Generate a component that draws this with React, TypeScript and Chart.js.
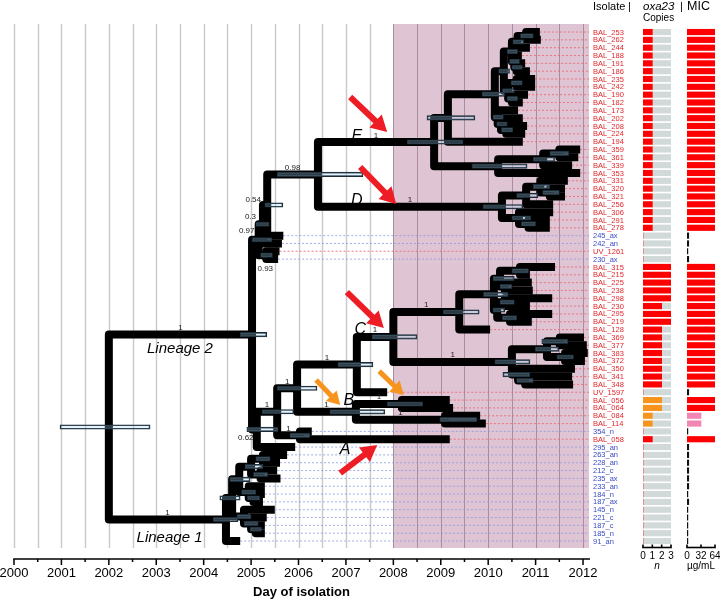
import React, { useEffect, useRef } from 'react';
import { Chart, registerables } from 'chart.js';

Chart.register(...registerables);

// ---------------- data ----------------
const isolates = [
  'BAL_253', 'BAL_262', 'BAL_244', 'BAL_188', 'BAL_191', 'BAL_186', 'BAL_235', 'BAL_242', 'BAL_190', 'BAL_182',
  'BAL_173', 'BAL_202', 'BAL_208', 'BAL_224', 'BAL_194', 'BAL_359', 'BAL_361', 'BAL_339', 'BAL_353', 'BAL_331',
  'BAL_320', 'BAL_321', 'BAL_256', 'BAL_306', 'BAL_291', 'BAL_278', '245_ax', '242_an', 'UV_1261', '230_ax',
  'BAL_315', 'BAL_215', 'BAL_225', 'BAL_238', 'BAL_298', 'BAL_230', 'BAL_295', 'BAL_219', 'BAL_128', 'BAL_369',
  'BAL_377', 'BAL_383', 'BAL_372', 'BAL_350', 'BAL_341', 'BAL_348', 'UV_1597', 'BAL_056', 'BAL_064', 'BAL_084',
  'BAL_114', '354_n', 'BAL_058', '295_an', '263_an', '228_an', '212_c', '235_ax', '233_an', '184_n',
  '187_ax', '145_n', '221_c', '187_c', '185_n', '91_an',
];

const tipYears = [
  2011.09, 2011.11, 2010.88, 2010.71, 2010.78, 2010.88, 2010.99, 2010.99, 2010.84, 2010.73,
  2010.63, 2010.73, 2010.82, 2010.78, 2010.73, 2011.94, 2011.90, 2011.77, 2011.94, 2011.68,
  2011.62, 2011.62, 2011.37, 2011.37, 2011.30, 2011.30, 2005.68, 2005.65, 2005.60, 2005.57,
  2011.41, 2010.88, 2010.92, 2010.94, 2011.35, 2010.88, 2011.35, 2010.92, 2010.04, 2012.02,
  2012.08, 2012.10, 2012.04, 2011.83, 2011.77, 2011.79, 2007.87, 2009.19, 2009.26, 2009.83,
  2009.95, 2006.28, 2009.19, 2005.93, 2005.76, 2005.61, 2005.55, 2005.62, 2005.29, 2005.29,
  2005.25, 2005.50, 2005.33, 2005.29, 2005.29, 2004.77,
];

const tipParents = [
  'nU9', 'nU9', 'nU7', 'nU8', 'nU10', 'nU10', 'nU11', 'nU11', 'nU12', 'nU12',
  'nU2', 'nU3', 'nU4', 'nU4', 'nE1', 'nE2a1', 'nE2a1', 'nE2a', 'nE2', 'nD1a',
  'nD1b', 'nD1b', 'nD1', 'nD2', 'nD2a', 'nD2a', 'n054', 'n03', 'n093', 'n093',
  'nC3a', 'nC3a', 'nC3b', 'nC3b', 'nC4a', 'nC4a', 'nC4b', 'nC4b', 'nC1', 'nC5a',
  'nC5a', 'nC5b', 'nC5b', 'nC6', 'nC6a', 'nC6a', 'nC0', 'nB1', 'nB1', 'nB2',
  'nB2', 'nA', 'nA', 'n062', 'nL1i', 'nL1i', 'nL1j', 'nL1j', 'nL1g', 'nL1h',
  'nL1h', 'nL1c', 'nL1d', 'nL1e', 'nL1e', 'L1',
];

const oxa23Copies = [
  1, 1, 1, 1, 1, 1, 1, 1, 1, 1,
  1, 1, 1, 1, 1, 1, 1, 1, 1, 1,
  1, 1, 1, 1, 1, 1, 0, 0, 0, 0,
  3, 3, 3, 3, 3, 2, 3, 3, 2, 2,
  2, 2, 2, 2, 2, 2, 0, 2, 2, 1,
  1, 0, 1, 0, 0, 0, 0, 0, 0, 0,
  0, 0, 0, 0, 0, 0,
];

// 'r' = red oxa23 context, 'o' = orange oxa23 context, '' = none
const oxa23Type = [
  'r', 'r', 'r', 'r', 'r', 'r', 'r', 'r', 'r', 'r',
  'r', 'r', 'r', 'r', 'r', 'r', 'r', 'r', 'r', 'r',
  'r', 'r', 'r', 'r', 'r', 'r', '', '', '', '',
  'r', 'r', 'r', 'r', 'r', 'r', 'r', 'r', 'r', 'r',
  'r', 'r', 'r', 'r', 'r', 'r', '', 'o', 'o', 'o',
  'o', '', 'r', '', '', '', '', '', '', '',
  '', '', '', '', '', '',
];

const micValues = [
  64, 64, 64, 64, 64, 64, 64, 64, 64, 64,
  64, 64, 64, 64, 64, 64, 64, 64, 64, 64,
  64, 64, 64, 64, 64, 64, 4, 4, 2, 4,
  64, 64, 64, 64, 64, 64, 64, 64, 64, 64,
  64, 64, 64, 64, 64, 64, 4, 64, 64, 32,
  32, 2, 64, 4, 4, 4, 4, 4, 4, 2,
  4, 2, 2, 2, 2, 2,
];

const nodeIds = [
  'root', 'L2', 'L1', 'n097', 'n03', 'n054', 'nDE', 'n093', 'nE', 'nE1',
  'nU', 'nU1', 'nU2', 'nU3', 'nU4', 'nU5', 'nU6', 'nU7', 'nU8', 'nU9',
  'nU10', 'nU11', 'nU12', 'nE2', 'nE2a', 'nE2a1', 'nD', 'nD1', 'nD1a', 'nD1b',
  'nD2', 'nD2a', 'n062', 'nX', 'nY', 'nA', 'nC0', 'nB', 'nC', 'nC1',
  'nC1a', 'nC3', 'nC3a', 'nC3b', 'nC4', 'nC4a', 'nC4b', 'nC2', 'nC5', 'nC5a',
  'nC5b', 'nC6', 'nC6a', 'nB1', 'nB2', 'nL1a', 'nL1b', 'nL1c', 'nL1d', 'nL1e',
  'nL1f', 'nL1g', 'nL1h', 'nL1i', 'nL1j',
];

const nodeParents = [
  '', 'root', 'root', 'L2', 'n097', 'n03', 'n054', 'n097', 'nDE', 'nE',
  'nE1', 'nU', 'nU', 'nU2', 'nU3', 'nU1', 'nU1', 'nU5', 'nU5', 'nU7',
  'nU8', 'nU6', 'nU6', 'nE', 'nE2', 'nE2a', 'nDE', 'nD', 'nD1', 'nD1a',
  'nD', 'nD2', 'L2', 'n062', 'nX', 'nX', 'nY', 'nY', 'nC0', 'nC',
  'nC1', 'nC1a', 'nC3', 'nC3', 'nC1a', 'nC4', 'nC4', 'nC', 'nC2', 'nC5',
  'nC5', 'nC2', 'nC6', 'nB', 'nB', 'L1', 'nL1a', 'nL1a', 'nL1c', 'nL1d',
  'nL1b', 'nL1b', 'nL1g', 'nL1f', 'nL1f',
];

const nodeYears = [
  2002.00, 2005.02, 2004.47, 2005.16, 2005.25, 2005.34, 2006.41, 2005.32, 2008.86, 2009.15,
  2010.14, 2010.33, 2010.20, 2010.27, 2010.38, 2010.50, 2010.42, 2010.62, 2010.55, 2010.80,
  2010.60, 2010.60, 2010.50, 2010.21, 2011.16, 2011.50, 2010.29, 2010.80, 2011.10, 2011.30,
  2010.65, 2010.85, 2005.12, 2005.55, 2005.97, 2006.03, 2007.23, 2007.21, 2008.00, 2009.39,
  2010.12, 2010.25, 2010.67, 2010.35, 2010.19, 2010.35, 2010.46, 2010.50, 2011.24, 2011.51,
  2011.62, 2010.63, 2010.78, 2008.18, 2009.09, 2004.60, 2004.75, 2004.85, 2005.00, 2005.10,
  2005.00, 2004.95, 2005.05, 2005.25, 2005.20,
];

const nodeSupport = [
  null, 1, 1, 0.97, 0.3, 0.54, 0.98, 0.93, 1, null,
  null, null, null, null, null, null, null, null, null, null,
  null, null, null, null, null, null, 1, null, null, null,
  null, null, 0.62, 1, 1, 1, 1, 1, 1, 1,
  null, null, null, null, null, null, null, 1, null, null,
  null, null, null, 1, 1, null, null, null, null, null,
  null, null, null, null, null,
];

const hpdLow = [
  2000.97, 2004.77, 2004.20, 2005.02, 2005.10, 2005.29, 2005.55, 2005.20, 2008.29, 2008.71,
  2009.87, 2010.22, 2010.10, 2010.18, 2010.28, 2010.40, 2010.30, 2010.52, 2010.45, 2010.68,
  2010.50, 2010.48, 2010.40, 2009.66, 2010.95, 2011.30, 2009.89, 2010.60, 2010.95, 2011.15,
  2010.50, 2010.70, 2004.91, 2005.23, 2005.55, 2005.82, 2006.83, 2006.66, 2007.55, 2009.05,
  2009.90, 2010.10, 2010.50, 2010.25, 2010.10, 2010.25, 2010.30, 2010.14, 2010.99, 2011.13,
  2011.45, 2010.31, 2010.60, 2007.87, 2008.98, 2004.34, 2004.55, 2004.70, 2004.85, 2004.98,
  2004.87, 2004.80, 2004.92, 2005.10, 2005.05,
];

const hpdHigh = [
  2002.87, 2005.33, 2004.72, 2005.44, 2005.38, 2005.67, 2007.36, 2005.45, 2009.47, 2009.72,
  2010.35, 2010.45, 2010.32, 2010.40, 2010.52, 2010.62, 2010.55, 2010.75, 2010.66, 2010.95,
  2010.72, 2010.72, 2010.62, 2010.82, 2011.40, 2011.70, 2010.73, 2011.05, 2011.30, 2011.50,
  2010.90, 2011.00, 2005.57, 2005.90, 2006.39, 2006.24, 2007.57, 2007.82, 2008.50, 2009.81,
  2010.42, 2010.55, 2010.85, 2010.50, 2010.35, 2010.55, 2010.60, 2010.88, 2011.49, 2011.68,
  2011.80, 2010.88, 2010.95, 2008.62, 2009.76, 2004.77, 2004.98, 2005.00, 2005.15, 2005.22,
  2005.25, 2005.10, 2005.18, 2005.40, 2005.35,
];

const yearTicks = [2000, 2001, 2002, 2003, 2004, 2005, 2006, 2007, 2008, 2009, 2010, 2011, 2012];
const copyTicks = [0, 1, 2, 3];
const micTicks = [0, 32, 64];
const shadedFrom = 2008;

const cladeNames = ['E', 'D', 'C', 'B', 'A'];
const cladeNameYear = [2007.23, 2007.23, 2007.30, 2007.06, 2006.98];
const cladeNameRow = [13.41, 21.58, 37.93, 47.0, 53.26];

const lineageNames = ['Lineage 2', 'Lineage 1'];
const lineageNameYear = [2003.50, 2003.28];
const lineageNameRow = [40.49, 64.62];

const arrowKind = ['red', 'red', 'red', 'red', 'orange', 'orange'];
const arrowFromYear = [2007.09, 2007.30, 2007.02, 2006.88, 2006.37, 2007.70];
const arrowFromRow = [8.30, 17.24, 33.21, 56.32, 44.44, 43.30];
const arrowToYear = [2007.87, 2008.06, 2007.80, 2007.66, 2006.88, 2008.22];
const arrowToRow = [12.77, 21.97, 37.80, 52.75, 47.64, 46.36];

// ---------------- layout / style constants ----------------
const FONT = '"Liberation Sans", Arial, Helvetica, sans-serif';
const X_MIN = 2000;
const X_MAX = 2012.126;
const ROW_MIN = -1.28;
const ROW_MAX = 65.89;
const RED_TXT = '#e3262b';
const BLUE_TXT = '#3a4cc4';
// pixel offsets (from the node) for support labels that sit beside the spine
const supportLabelOffsets: Record<string, [number, number]> = {
  n097: [-12, -8.5],
  n03: [-12.5, -7.5],
  n054: [-14, -5.5],
  n093: [-1, 14],
  n062: [-11, 8],
};

const isRedIsolate = (name: string) => /^(BAL|UV)/.test(name);

// ---------------- tree geometry ----------------
const childrenOf: Record<string, string[]> = {};
const posX: Record<string, number> = {};
const posRow: Record<string, number> = {};
const parentOf: Record<string, string> = {};
nodeIds.forEach((id, i) => {
  childrenOf[id] = [];
  posX[id] = nodeYears[i];
});
isolates.forEach((_, i) => {
  const k = 't' + i;
  posX[k] = tipYears[i];
  posRow[k] = i;
  childrenOf[tipParents[i]].push(k);
  parentOf[k] = tipParents[i];
});
nodeParents.forEach((p, i) => {
  if (p) {
    childrenOf[p].push(nodeIds[i]);
    parentOf[nodeIds[i]] = p;
  }
});
const rowOf = (id: string): number => {
  if (posRow[id] !== undefined) return posRow[id];
  const rs = childrenOf[id].map(rowOf);
  const r = (Math.min(...rs) + Math.max(...rs)) / 2;
  posRow[id] = r;
  return r;
};
nodeIds.forEach(rowOf);

function drawArrow(ctx: any, x1: number, y1: number, x2: number, y2: number, color: string, shaft: number, headLen: number, headHalf: number) {
  const ang = Math.atan2(y2 - y1, x2 - x1);
  const c = Math.cos(ang);
  const s = Math.sin(ang);
  const bx = x2 - headLen * c;
  const by = y2 - headLen * s;
  ctx.strokeStyle = color;
  ctx.lineWidth = shaft;
  ctx.lineCap = 'butt';
  ctx.beginPath();
  ctx.moveTo(x1, y1);
  ctx.lineTo(bx + c, by + s);
  ctx.stroke();
  ctx.fillStyle = color;
  ctx.beginPath();
  ctx.moveTo(x2, y2);
  ctx.lineTo(bx - headHalf * s, by + headHalf * c);
  ctx.lineTo(bx + headHalf * s, by - headHalf * c);
  ctx.closePath();
  ctx.fill();
}

const treeDecor = {
  id: 'treeDecor',
  beforeDatasetsDraw(chart: any) {
    const { ctx, chartArea: a, scales } = chart;
    const x = scales.x;
    ctx.save();
    const top = a.top + 2;
    const p08 = x.getPixelForValue(shadedFrom);
    ctx.fillStyle = '#dfc4d3';
    ctx.fillRect(p08, top, a.right - p08, a.bottom - top);
    for (let v = X_MIN; v <= 2012.001; v += 0.5) {
      const p = Math.round(x.getPixelForValue(v)) + 0.5;
      ctx.strokeStyle = v >= shadedFrom ? '#a98c9d' : '#c9c9c9';
      ctx.lineWidth = v >= shadedFrom ? 1 : 1.4;
      ctx.beginPath();
      ctx.moveTo(p, top);
      ctx.lineTo(p, a.bottom);
      ctx.stroke();
    }
    ctx.restore();
  },
  afterDatasetsDraw(chart: any) {
    const { ctx, chartArea: a, scales } = chart;
    const x = scales.x;
    const y = scales.y;
    const X = (v: number) => x.getPixelForValue(v);
    const Y = (v: number) => y.getPixelForValue(v);
    ctx.save();

    // posterior support labels
    ctx.fillStyle = '#222';
    ctx.font = `8px ${FONT}`;
    ctx.textAlign = 'center';
    nodeIds.forEach((id, i) => {
      const s = nodeSupport[i];
      const p = nodeParents[i];
      if (s === null || !p) return;
      const cx = X(posX[id]);
      const cy = Y(posRow[id]);
      const off = supportLabelOffsets[id];
      if (off) {
        ctx.textBaseline = 'middle';
        ctx.fillText(String(s), cx + off[0], cy + off[1]);
      } else {
        ctx.textBaseline = 'alphabetic';
        ctx.fillText(String(s), (X(posX[p]) + cx) / 2, cy - 4.5);
      }
    });

    // clade letters and lineage names
    ctx.fillStyle = '#000';
    ctx.textBaseline = 'middle';
    ctx.font = `italic 16px ${FONT}`;
    cladeNames.forEach((n, i) => ctx.fillText(n, X(cladeNameYear[i]), Y(cladeNameRow[i])));
    ctx.font = `italic 15px ${FONT}`;
    lineageNames.forEach((n, i) => ctx.fillText(n, X(lineageNameYear[i]), Y(lineageNameRow[i])));

    // arrows
    arrowKind.forEach((k, i) => {
      const red = k === 'red';
      drawArrow(ctx, X(arrowFromYear[i]), Y(arrowFromRow[i]), X(arrowToYear[i]), Y(arrowToRow[i]),
        red ? '#ee1c25' : '#f7941e', red ? 6 : 5, red ? 16 : 13, red ? 9 : 7.5);
    });

    // isolate labels
    ctx.textAlign = 'left';
    ctx.textBaseline = 'middle';
    ctx.font = `7.5px ${FONT}`;
    isolates.forEach((n, i) => {
      ctx.fillStyle = isRedIsolate(n) ? RED_TXT : BLUE_TXT;
      ctx.fillText(n, a.right + 4, Y(i) + 0.5);
    });

    // headers
    ctx.fillStyle = '#000';
    ctx.textBaseline = 'alphabetic';
    ctx.font = `11px ${FONT}`;
    ctx.fillText('Isolate', a.right + 4, 9.5);
    ctx.fillText('|', 628, 9.5);
    ctx.fillText('|', 680, 9.5);
    ctx.font = `italic 11.5px ${FONT}`;
    ctx.fillText('oxa23', 643, 9.5);
    ctx.font = `12.5px ${FONT}`;
    ctx.fillText('MIC', 687, 9.5);
    ctx.font = `10px ${FONT}`;
    ctx.fillText('Copies', 643, 20.5);

    // x axis
    const axY = a.bottom + 11;
    ctx.strokeStyle = '#000';
    ctx.lineWidth = 1.5;
    ctx.beginPath();
    ctx.moveTo(X(X_MIN) - 0.75, axY);
    ctx.lineTo(a.right + 1, axY);
    ctx.stroke();
    for (let v = X_MIN; v <= 2012.001; v += 0.5) {
      const p = X(v);
      const major = Math.abs(v - Math.round(v)) < 1e-6;
      ctx.beginPath();
      ctx.moveTo(p, axY);
      ctx.lineTo(p, axY + (major ? 6 : 3));
      ctx.stroke();
    }
    ctx.font = `13px ${FONT}`;
    ctx.textAlign = 'center';
    ctx.textBaseline = 'middle';
    yearTicks.forEach((t) => ctx.fillText(String(t), X(t), axY + 14.5));
    ctx.font = `bold 13px ${FONT}`;
    ctx.fillText('Day of isolation', (a.left + a.right) / 2, axY + 33);
    ctx.restore();
  },
};

function barAxis(ticks: number[], title: string, italic: boolean) {
  return {
    id: 'barAxis',
    afterDraw(chart: any) {
      const { ctx, chartArea: a, scales } = chart;
      const x = scales.x;
      const yl = a.bottom - 0.5;
      ctx.save();
      ctx.strokeStyle = '#000';
      ctx.lineWidth = 1.6;
      ctx.beginPath();
      ctx.moveTo(x.getPixelForValue(ticks[0]) - 0.8, yl);
      ctx.lineTo(x.getPixelForValue(ticks[ticks.length - 1]) + 0.8, yl);
      ctx.stroke();
      ticks.forEach((t) => {
        const p = x.getPixelForValue(t);
        ctx.beginPath();
        ctx.moveTo(p, yl);
        ctx.lineTo(p, yl - 3);
        ctx.stroke();
      });
      ctx.fillStyle = '#000';
      ctx.font = `10px ${FONT}`;
      ctx.textAlign = 'center';
      ctx.textBaseline = 'middle';
      ticks.forEach((t) => ctx.fillText(String(t), x.getPixelForValue(t), yl + 9));
      ctx.font = `${italic ? 'italic ' : ''}10px ${FONT}`;
      ctx.fillText(title, (a.left + a.right) / 2, yl + 19);
      ctx.restore();
    },
  };
}

function treeConfig(): any {
  const hpdDataset = {
    type: 'bar',
    indexAxis: 'y',
    data: nodeIds.map((id, i) => ({ x: [hpdLow[i], hpdHigh[i]], y: posRow[id] })),
    backgroundColor: 'rgba(165,212,236,0.28)',
    borderColor: '#1b2c38',
    borderWidth: 1,
    borderSkipped: false,
    barThickness: 4.5,
    order: 0,
  };
  const branchDatasets = Object.keys(parentOf).map((id) => {
    const p = parentOf[id];
    return {
      type: 'line',
      data: [
        { x: posX[p], y: posRow[p] },
        { x: posX[p], y: posRow[id] },
        { x: posX[id], y: posRow[id] },
      ],
      borderColor: '#000',
      borderWidth: 8,
      borderJoinStyle: 'round',
      borderCapStyle: 'butt',
      pointRadius: 0,
      fill: false,
      tension: 0,
      order: 1,
    };
  });
  const leaderDatasets = isolates.map((n, i) => ({
    type: 'line',
    data: [
      { x: tipYears[i], y: i },
      { x: X_MAX, y: i },
    ],
    borderColor: isRedIsolate(n) ? 'rgba(236,96,106,0.8)' : 'rgba(140,152,228,0.8)',
    borderWidth: 1,
    borderDash: [2, 2],
    pointRadius: 0,
    fill: false,
    order: 2,
  }));
  return {
    type: 'scatter',
    data: { datasets: [hpdDataset, ...branchDatasets, ...leaderDatasets] },
    options: {
      responsive: false,
      maintainAspectRatio: false,
      animation: false,
      events: [],
      layout: { padding: { left: 14, right: 131, top: 22, bottom: 52 } },
      scales: {
        x: { type: 'linear', min: X_MIN, max: X_MAX, display: false, offset: false, grid: { offset: false } },
        y: { type: 'linear', min: ROW_MIN, max: ROW_MAX, reverse: true, display: false, offset: false, grid: { offset: false } },
      },
      plugins: { legend: { display: false }, tooltip: { enabled: false } },
    },
    plugins: [treeDecor],
  };
}

function oxaConfig(): any {
  return {
    type: 'bar',
    data: {
      datasets: [
        {
          data: oxa23Copies.map((v, i) => ({ x: v, y: i })),
          backgroundColor: oxa23Type.map((t) => (t === 'o' ? '#f7941d' : '#fe0000')),
          barThickness: 5.5,
          borderWidth: 0,
        },
        {
          data: oxa23Copies.map((v, i) => ({ x: 3 - v, y: i })),
          backgroundColor: '#d1d9d9',
          barThickness: 5.5,
          borderWidth: 0,
        },
      ],
    },
    options: {
      indexAxis: 'y',
      responsive: false,
      maintainAspectRatio: false,
      animation: false,
      events: [],
      layout: { padding: { left: 643, right: 49, top: 22, bottom: 52 } },
      scales: {
        x: { type: 'linear', min: 0, max: 3, stacked: true, display: false, offset: false, grid: { offset: false } },
        y: { type: 'linear', min: ROW_MIN, max: ROW_MAX, reverse: true, stacked: true, display: false, offset: false, grid: { offset: false } },
      },
      plugins: { legend: { display: false }, tooltip: { enabled: false } },
    },
    plugins: [barAxis(copyTicks, 'n', true)],
  };
}

function micConfig(): any {
  return {
    type: 'bar',
    data: {
      datasets: [
        {
          data: micValues.map((v, i) => ({ x: v, y: i })),
          backgroundColor: micValues.map((v) => (v >= 64 ? '#fe0000' : v >= 16 ? '#f287b6' : '#111111')),
          barThickness: 5.5,
          borderWidth: 0,
        },
      ],
    },
    options: {
      indexAxis: 'y',
      responsive: false,
      maintainAspectRatio: false,
      animation: false,
      events: [],
      layout: { padding: { left: 687, right: 5, top: 22, bottom: 52 } },
      scales: {
        x: { type: 'linear', min: 0, max: 64, display: false, offset: false, grid: { offset: false } },
        y: { type: 'linear', min: ROW_MIN, max: ROW_MAX, reverse: true, display: false, offset: false, grid: { offset: false } },
      },
      plugins: { legend: { display: false }, tooltip: { enabled: false } },
    },
    plugins: [barAxis(micTicks, 'µg/mL', false)],
  };
}

export default function App() {
  const treeRef = useRef<HTMLCanvasElement>(null);
  const oxaRef = useRef<HTMLCanvasElement>(null);
  const micRef = useRef<HTMLCanvasElement>(null);

  useEffect(() => {
    const charts = [
      new Chart(treeRef.current as HTMLCanvasElement, treeConfig()),
      new Chart(oxaRef.current as HTMLCanvasElement, oxaConfig()),
      new Chart(micRef.current as HTMLCanvasElement, micConfig()),
    ];
    return () => charts.forEach((c) => c.destroy());
  }, []);

  const cs: React.CSSProperties = { position: 'absolute', left: 0, top: 0, width: 720, height: 600 };
  return (
    <div style={{ position: 'absolute', left: 0, top: 0, width: 720, height: 600, background: '#ffffff', overflow: 'hidden' }}>
      <canvas ref={treeRef} width={720} height={600} style={cs} />
      <canvas ref={oxaRef} width={720} height={600} style={cs} />
      <canvas ref={micRef} width={720} height={600} style={cs} />
    </div>
  );
}
